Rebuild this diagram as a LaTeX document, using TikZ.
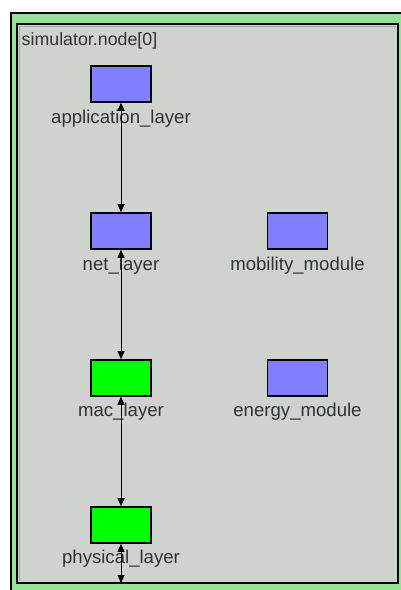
\documentclass[tikz,border=0pt]{standalone}
\usepackage{fontspec}
\setmainfont{Liberation Sans}
\usetikzlibrary{arrows.meta}
\definecolor{framegreen}{RGB}{150,226,150}
\definecolor{panelgray}{RGB}{207,211,205}
\definecolor{modblue}{RGB}{128,128,255}
\definecolor{modgreen}{RGB}{0,255,0}
\definecolor{labelgray}{RGB}{50,50,50}
\tikzset{
  module/.style={draw=black, line width=1.6pt, inner sep=0pt,
    minimum width=60pt, minimum height=36pt},
  bluemod/.style={module, fill=modblue},
  greenmod/.style={module, fill=modgreen},
  modlabel/.style={font=\fontsize{18.6}{21}\selectfont, text=labelgray,
    anchor=base, inner sep=0pt},
  gateconn/.style={line width=1pt, draw=black,
    {Triangle[length=8pt,width=7pt]}-{Triangle[length=8pt,width=7pt]}}
}
\begin{document}
\begin{tikzpicture}[x=1pt, y=-1pt]
  \useasboundingbox (0,0) rectangle (401,590);
  % outer compound-module frame
  \fill[white] (0,0) rectangle (401,590);
  \fill[framegreen] (11,13) rectangle (401,590);
  \draw[black, line width=1.5pt] (11,590) -- (11,13) -- (401,13);
  % inner panel
  \fill[panelgray] (17,24) rectangle (398,583);
  \draw[black!35, line width=1pt] (19.5,580.5) -- (19.5,26.5) -- (395.5,26.5);
  \draw[black, line width=1.6pt] (17,24) rectangle (398,583);
  % title
  \node[modlabel, anchor=base west, font=\fontsize{17.8}{20}\selectfont] (title) at (21.5,45) {simulator.node[0]};
  % submodules
  \node[bluemod]  (app)  at (121,84)    {};
  \node[bluemod]  (net)  at (121,231)   {};
  \node[greenmod] (mac)  at (121,378)   {};
  \node[greenmod] (phy)  at (121,525)   {};
  \node[bluemod]  (mob)  at (297.5,231) {};
  \node[bluemod]  (nrg)  at (297.5,378) {};
  % submodule names
  \node[modlabel] (appL) at (121,123)   {application\_layer};
  \node[modlabel] (netL) at (121,270)   {net\_layer};
  \node[modlabel] (macL) at (121,416)   {mac\_layer};
  \node[modlabel] (phyL) at (121,563)   {physical\_layer};
  \node[modlabel] (mobL) at (297.5,270) {mobility\_module};
  \node[modlabel] (nrgL) at (297.5,416) {energy\_module};
  % gate connections
  \coordinate (out) at (121,583);
  \draw[gateconn] (app.south) -- (net.north);
  \draw[gateconn] (net.south) -- (mac.north);
  \draw[gateconn] (mac.south) -- (phy.north);
  \draw[gateconn] (phy.south) -- (out);
\end{tikzpicture}
\end{document}
